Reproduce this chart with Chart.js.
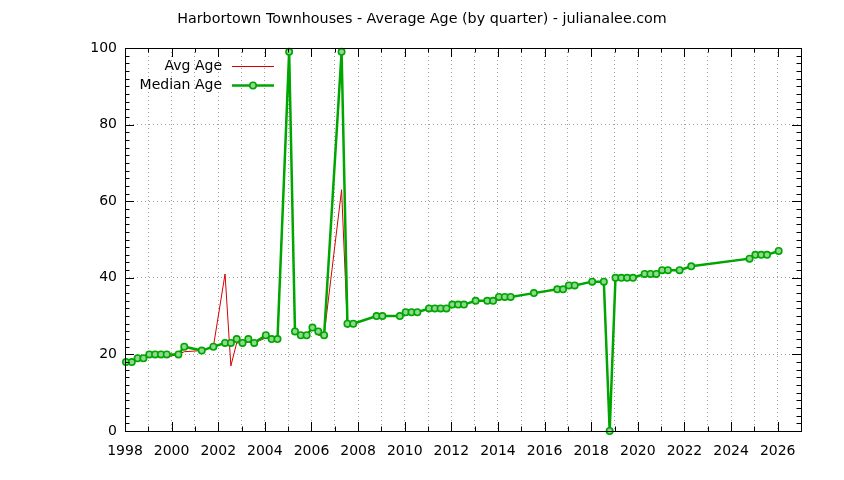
<!DOCTYPE html>
<html lang="en">
<head>
    <meta charset="UTF-8">
    <title>Harbortown Townhouses - Average Age</title>
    <style>
        html, body { margin: 0; padding: 0; background: #fff; }
        #wrap { width: 844px; height: 480px; }
    </style>
</head>
<body>
    <div id="wrap"><canvas id="ageChart" width="844" height="480"></canvas></div>
    <script src="https://cdn.jsdelivr.net/npm/chart.js@4.4.1/dist/chart.umd.min.js"></script>
    <script>
        const quarters = [
            '1998-Q1','1998-Q2','1998-Q3','1998-Q4','1999-Q1','1999-Q2','1999-Q3','1999-Q4',
            '2000-Q2','2000-Q3','2001-Q2','2001-Q4','2002-Q2','2002-Q3','2002-Q4',
            '2003-Q1','2003-Q2','2003-Q3','2004-Q1','2004-Q2','2004-Q3',
            '2005-Q1','2005-Q2','2005-Q3','2005-Q4','2006-Q1','2006-Q2','2006-Q3',
            '2007-Q2','2007-Q3','2007-Q4','2008-Q4','2009-Q1','2009-Q4',
            '2010-Q1','2010-Q2','2010-Q3','2011-Q1','2011-Q2','2011-Q3','2011-Q4',
            '2012-Q1','2012-Q2','2012-Q3','2013-Q1','2013-Q3','2013-Q4',
            '2014-Q1','2014-Q2','2014-Q3','2015-Q3','2016-Q3','2016-Q4',
            '2017-Q1','2017-Q2','2018-Q1','2018-Q3','2018-Q4',
            '2019-Q1','2019-Q2','2019-Q3','2019-Q4','2020-Q2','2020-Q3','2020-Q4',
            '2021-Q1','2021-Q2','2021-Q4','2022-Q2','2024-Q4',
            '2025-Q1','2025-Q2','2025-Q3','2026-Q1'
        ]
        const avgAge = [
            18, 18, 19, 18.3, 20, 19.2, 20, 19.3,
            20, 20.7, 21, 22, 41, 17, 23,
            23, 23.2, 23, 24.3, 24, 24,
            99, 26, 25, 25, 27, 25, 25,
            63, 27, 28, 30, 30, 30,
            31, 31, 31, 32, 32, 32, 32,
            33, 33, 33, 34, 34, 34,
            35, 35, 35, 36, 37, 37,
            38, 38, 39, 39, 0,
            40, 40, 40, 40, 41, 41, 41,
            42, 42, 42, 43, 45,
            46, 46, 46, 47
        ]
        const medianAge = [
            18, 18, 19, 19, 20, 20, 20, 20,
            20, 22, 21, 22, 23, 23, 24,
            23, 24, 23, 25, 24, 24,
            99, 26, 25, 25, 27, 26, 25,
            99, 28, 28, 30, 30, 30,
            31, 31, 31, 32, 32, 32, 32,
            33, 33, 33, 34, 34, 34,
            35, 35, 35, 36, 37, 37,
            38, 38, 39, 39, 0,
            40, 40, 40, 40, 41, 41, 41,
            42, 42, 42, 43, 45,
            46, 46, 46, 47
        ]
        const xTickLabels = [1998, 2000, 2002, 2004, 2006, 2008, 2010, 2012, 2014, 2016, 2018, 2020, 2022, 2024, 2026]
        const yTickLabels = [0, 20, 40, 60, 80, 100]
        const xMin = 1998, xMax = 2027
        const chartTitle = 'Harbortown Townhouses - Average Age (by quarter) - julianalee.com'

        const FONT = "'DejaVu Sans', sans-serif"
        const FSIZE = 14
        const RED = '#d40000'
        const GREEN = '#00a600'

        // quarter label -> decimal year (middle of the quarter's first month)
        const toYear = (q) => {
            const [yr, qq] = q.split('-Q')
            return Number(yr) + (Number(qq) - 1) / 4 + 1 / 24
        }
        const points = (vals) => quarters.map((q, i) => ({ x: toYear(q), y: vals[i] }))

        // title, box, gnuplot style mirrored ticks, inside legend
        const framePlugin = {
            id: 'frame',
            afterDraw(chart) {
                const { ctx, chartArea: a, scales: { x, y } } = chart
                ctx.save()

                ctx.font = '14.3px ' + FONT
                ctx.fillStyle = '#000'
                ctx.textAlign = 'center'
                ctx.textBaseline = 'middle'
                ctx.fillText(chartTitle, chart.width / 2, 19)

                ctx.strokeStyle = '#000'
                ctx.lineWidth = 1
                ctx.beginPath()
                for (let yr = xMin; yr <= xMax; yr++) {
                    const px = Math.round(x.getPixelForValue(yr)) + 0.5
                    const len = xTickLabels.includes(yr) ? 9 : 4.5
                    ctx.moveTo(px, a.bottom); ctx.lineTo(px, a.bottom - len)
                    ctx.moveTo(px, a.top); ctx.lineTo(px, a.top + len)
                }
                for (let v = 0; v <= 100; v += 2) {
                    const py = Math.round(y.getPixelForValue(v)) + 0.5
                    const len = yTickLabels.includes(v) ? 9 : 4.5
                    ctx.moveTo(a.left, py); ctx.lineTo(a.left + len, py)
                    ctx.moveTo(a.right, py); ctx.lineTo(a.right - len, py)
                }
                ctx.stroke()
                ctx.strokeRect(Math.round(a.left) + 0.5, Math.round(a.top) + 0.5,
                    Math.round(a.right - a.left), Math.round(a.bottom - a.top))

                // legend
                ctx.font = FSIZE + 'px ' + FONT
                ctx.textAlign = 'right'
                const rows = [chart.data.datasets[1], chart.data.datasets[0]]
                rows.forEach((ds, i) => {
                    const ly = a.top + 18.5 + i * 19
                    ctx.fillText(ds.label, a.left + 97, ly)
                    ctx.strokeStyle = ds.borderColor
                    ctx.lineWidth = ds.borderWidth
                    ctx.beginPath()
                    ctx.moveTo(a.left + 107, ly); ctx.lineTo(a.left + 149, ly)
                    ctx.stroke()
                    if (ds.pointRadius > 0) {
                        ctx.beginPath()
                        ctx.arc(a.left + 128, ly, ds.pointRadius, 0, Math.PI * 2)
                        ctx.fillStyle = ds.pointBackgroundColor
                        ctx.fill()
                        ctx.lineWidth = ds.pointBorderWidth
                        ctx.strokeStyle = ds.borderColor
                        ctx.stroke()
                        ctx.fillStyle = '#000'
                    }
                })
                ctx.restore()
            }
        }

        new Chart(document.getElementById('ageChart').getContext('2d'), {
            type: 'line',
            data: {
                datasets: [
                    {
                        label: 'Median Age',
                        data: points(medianAge),
                        borderColor: GREEN,
                        borderWidth: 2.5,
                        pointRadius: 3.2,
                        pointBorderWidth: 1.6,
                        pointBackgroundColor: '#8fd88f',
                        pointBorderColor: GREEN,
                        tension: 0,
                        clip: false,
                        order: 1
                    },
                    {
                        label: 'Avg Age',
                        data: points(avgAge),
                        borderColor: RED,
                        borderWidth: 1,
                        pointRadius: 0,
                        tension: 0,
                        order: 2
                    }
                ]
            },
            options: {
                responsive: false,
                animation: false,
                layout: { padding: { left: 0, right: 43, top: 48, bottom: 0 } },
                plugins: {
                    legend: { display: false },
                    tooltip: { enabled: false },
                    title: { display: false }
                },
                scales: {
                    x: {
                        type: 'linear',
                        min: xMin,
                        max: xMax,
                        afterBuildTicks: (s) => {
                            const t = []
                            for (let yr = xMin; yr <= xMax; yr++) t.push({ value: yr })
                            s.ticks = t
                        },
                        afterFit: (s) => { s.height = 49 },
                        ticks: {
                            autoSkip: false,
                            maxRotation: 0,
                            padding: 12,
                            color: '#000',
                            font: { family: FONT, size: FSIZE },
                            callback: (v) => xTickLabels.includes(v) ? String(v) : ''
                        },
                        grid: { color: '#a0a0a0', lineWidth: 1, drawTicks: false },
                        border: { display: false, dash: [1, 3] }
                    },
                    y: {
                        min: 0,
                        max: 100,
                        afterBuildTicks: (s) => { s.ticks = yTickLabels.map(v => ({ value: v })) },
                        afterFit: (s) => { s.width = 125 },
                        ticks: {
                            padding: 8,
                            color: '#000',
                            font: { family: FONT, size: FSIZE }
                        },
                        grid: { color: '#a0a0a0', lineWidth: 1, drawTicks: false },
                        border: { display: false, dash: [1, 3] }
                    }
                }
            },
            plugins: [framePlugin]
        })
    </script>
</body>
</html>
